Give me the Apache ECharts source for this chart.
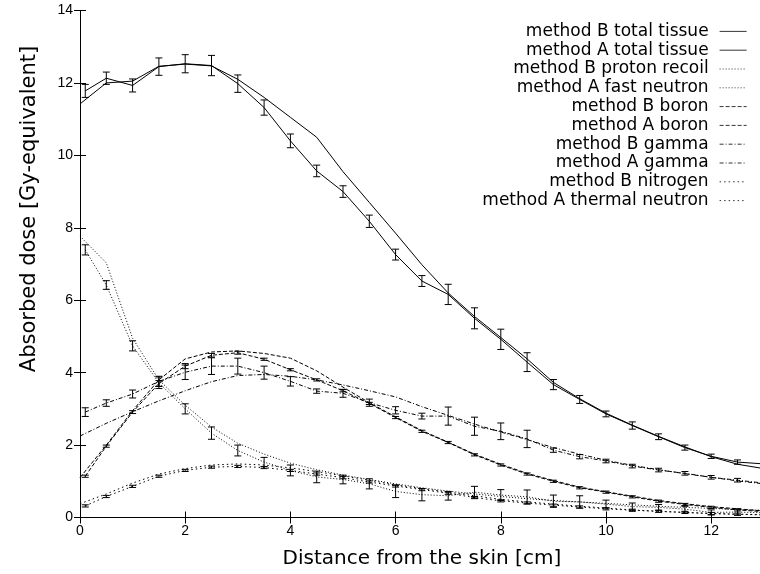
<!DOCTYPE html>
<html>
<head>
<meta charset="utf-8">
<script src="https://cdn.jsdelivr.net/npm/echarts@6/dist/echarts.min.js"></script>
<style>html,body{margin:0;padding:0;background:#fff}#c{width:760px;height:574px}</style>
</head>
<body>
<div id="c"></div>
<script>
// x positions
const xA = [0.1,0.5,1,1.5,2,2.5,3,3.5,4,4.5,5,5.5,6,6.5,7,7.5,8,8.5,9,9.5,10,10.5,11,11.5,12,12.5,13];
const xB = [0,0.5,1,1.5,2,2.5,3,3.5,4,4.5,5,5.5,6,6.5,7,7.5,8,8.5,9,9.5,10,10.5,11,11.5,12,12.5,13];

// method B (no error bars)
const totalB   = [11.42,12.0,12.05,12.46,12.52,12.47,12.1,11.6,11.05,10.5,9.55,8.7,7.85,6.98,6.2,5.55,4.97,4.38,3.73,3.28,2.88,2.55,2.24,1.95,1.68,1.47,1.35];
const protonB  = [7.77,7.03,4.95,3.8,3.1,2.5,2.05,1.75,1.5,1.32,1.17,1.05,0.93,0.82,0.73,0.65,0.58,0.52,0.47,0.43,0.39,0.35,0.31,0.28,0.25,0.22,0.2];
const boronB   = [1.1,2.0,2.95,3.8,4.38,4.57,4.6,4.53,4.4,4.05,3.6,3.17,2.78,2.4,2.08,1.75,1.47,1.22,1.02,0.84,0.71,0.59,0.47,0.38,0.3,0.24,0.18];
const gammaB   = [2.25,2.6,2.92,3.22,3.5,3.75,3.92,3.95,3.9,3.8,3.66,3.5,3.33,3.06,2.82,2.58,2.36,2.15,1.93,1.75,1.58,1.44,1.32,1.21,1.11,1.01,0.93];
const nitrogenB= [0.38,0.65,0.95,1.2,1.35,1.45,1.48,1.45,1.37,1.27,1.15,1.03,0.9,0.8,0.7,0.6,0.5,0.43,0.37,0.31,0.26,0.21,0.17,0.14,0.11,0.09,0.07];

// method A (with error bars)
const totalA    = [11.78,12.13,11.93,12.45,12.53,12.48,11.98,11.32,10.4,9.57,9.0,8.18,7.26,6.53,6.16,5.5,4.92,4.29,3.67,3.26,2.86,2.54,2.23,1.93,1.69,1.53,1.48];
const totalAerr = [0.18,0.17,0.18,0.24,0.25,0.28,0.24,0.21,0.19,0.16,0.16,0.17,0.15,0.15,0.28,0.29,0.28,0.26,0.14,0.11,0.08,0.1,0.08,0.07,0.06,0.06,0];
const fastA     = [7.39,6.42,4.74,3.72,3.0,2.33,1.85,1.53,1.3,1.12,1.05,0.93,0.72,0.63,0.6,0.7,0.62,0.57,0.45,0.43,0.37,0.3,0.28,0.23,0.14,0.15,0.13];
const fastAerr  = [0.14,0.12,0.14,0.16,0.14,0.17,0.15,0.13,0.15,0.16,0.12,0.14,0.17,0.17,0.12,0.16,0.15,0.19,0.17,0.17,0.11,0.1,0.08,0.08,0.07,0.08,0];
const boronA    = [1.14,1.97,2.91,3.7,4.18,4.48,4.55,4.37,4.08,3.8,3.5,3.15,2.76,2.38,2.07,1.73,1.45,1.2,1.0,0.82,0.7,0.57,0.45,0.36,0.28,0.21,0.16];
const boronAerr = [0.03,0.03,0.04,0.08,0.07,0.05,0.04,0.03,0.03,0.03,0.03,0.03,0.03,0.03,0.03,0.03,0.03,0.03,0.03,0.03,0.03,0.03,0.03,0.03,0.03,0.03,0];
const gammaA    = [2.91,3.16,3.41,3.76,4.01,4.18,4.18,4.0,3.76,3.49,3.43,3.17,2.96,2.8,2.8,2.52,2.38,2.17,1.86,1.68,1.56,1.42,1.31,1.22,1.11,1.03,0.95];
const gammaAerr = [0.12,0.09,0.11,0.14,0.2,0.23,0.22,0.18,0.13,0.06,0.11,0.1,0.1,0.08,0.25,0.25,0.23,0.24,0.06,0.06,0.05,0.05,0.05,0.05,0.05,0.05,0];
const thermalA  = [0.32,0.58,0.86,1.14,1.3,1.39,1.41,1.38,1.3,1.2,1.1,0.98,0.87,0.77,0.67,0.55,0.46,0.4,0.34,0.29,0.24,0.2,0.17,0.14,0.11,0.09,0.08];
const thermalAerr=[0.03,0.03,0.03,0.03,0.03,0.03,0.03,0.03,0.03,0.03,0.03,0.03,0.03,0.03,0.03,0.03,0.03,0.03,0.03,0.03,0.03,0.03,0.03,0.03,0.03,0.03,0];

const xTicks = [0,2,4,6,8,10,12];
const yTicks = [0,2,4,6,8,10,12,14];

const names = ['method B total tissue','method A total tissue','method B proton recoil','method A fast neutron',
  'method B boron','method A boron','method B gamma','method A gamma','method B nitrogen','method A thermal neutron'];
const xTitle = 'Distance from the skin [cm]';
const yTitle = 'Absorbed dose [Gy-equivalent]';

const SOLID = 'solid', FINE = [1,2], DASH = [4,2], DASHDOT = [4,2,1,2], COARSE = [1.5,3];

function pairs(xs, ys){ return xs.map((x,i)=>[x, ys[i]]); }
function lineSeries(name, xs, ys, type){
  return {name, type:'line', data:pairs(xs,ys), symbol:'none', showSymbol:false, animation:false,
    lineStyle:{color:'#000', width:1, type:type}, itemStyle:{color:'#000'}, z:2};
}
function errSeries(xs, ys, es){
  return {type:'custom', animation:false, silent:true, z:3,
    data: xs.map((x,i)=>[x, ys[i], es[i]]),
    encode:{x:0, y:1},
    renderItem:function(params, api){
      const x = api.value(0), y = api.value(1), e = api.value(2);
      const top = api.coord([x, y+e]), bot = api.coord([x, y-e]);
      const w = 3.5;
      const st = {stroke:'#000', lineWidth:1};
      return {type:'group', children:[
        {type:'line', shape:{x1:top[0], y1:top[1], x2:bot[0], y2:bot[1]}, style:st},
        {type:'line', shape:{x1:top[0]-w, y1:top[1], x2:top[0]+w, y2:top[1]}, style:st},
        {type:'line', shape:{x1:bot[0]-w, y1:bot[1], x2:bot[0]+w, y2:bot[1]}, style:st}
      ]};
    }};
}

const series = [
  lineSeries(names[0], xB, totalB, SOLID),
  lineSeries(names[1], xA, totalA, SOLID),
  lineSeries(names[2], xB, protonB, FINE),
  lineSeries(names[3], xA, fastA, FINE),
  lineSeries(names[4], xB, boronB, DASH),
  lineSeries(names[5], xA, boronA, DASH),
  lineSeries(names[6], xB, gammaB, DASHDOT),
  lineSeries(names[7], xA, gammaA, DASHDOT),
  lineSeries(names[8], xB, nitrogenB, COARSE),
  lineSeries(names[9], xA, thermalA, COARSE),
  errSeries(xA, totalA, totalAerr),
  errSeries(xA, fastA, fastAerr),
  errSeries(xA, boronA, boronAerr),
  errSeries(xA, gammaA, gammaAerr),
  errSeries(xA, thermalA, thermalAerr)
];

const FONT = 'DejaVu Sans';
const tickFont = {fontFamily:'Liberation Sans', fontSize:14, color:'#000'};

const chart = echarts.init(document.getElementById('c'), null, {renderer:'canvas'});
chart.setOption({
  backgroundColor:'#fff',
  animation:false,
  grid:{left:80, top:10.5, width:683.8, height:507, outerBoundsMode:'none', containLabel:false},
  legend:{
    data:names, orient:'vertical', align:'right', right:13, top:22, padding:0,
    itemWidth:27, itemHeight:10, itemGap:0,
    itemStyle:{opacity:0},
    lineStyle:{width:0.8},
    textStyle:{fontFamily:FONT, fontSize:17, color:'#000', lineHeight:18.8, padding:[0,6,0,0]},
    inactiveColor:'#000'
  },
  graphic:[{type:'text', x:30, y:209, rotation:Math.PI/2, silent:true,
    style:{text:yTitle, fontFamily:FONT, fontSize:21, fill:'#000', align:'center', verticalAlign:'middle'}}],
  xAxis:[
    {type:'value', min:0, max:13, interval:2, position:'bottom',
     name:xTitle, nameLocation:'middle', nameGap:31,
     nameTextStyle:{fontFamily:FONT, fontSize:20, color:'#000'},
     axisLine:{lineStyle:{color:'#000', width:1}},
     axisTick:{inside:true, length:6, lineStyle:{color:'#000'}},
     axisLabel:{...tickFont, margin:7, formatter:v=> xTicks.includes(v) ? String(v) : ''},
     splitLine:{show:false}},
    {type:'value', min:0, max:13, interval:2, position:'top',
     axisLine:{show:true, lineStyle:{color:'#000', width:1}},
     axisTick:{inside:true, length:6, lineStyle:{color:'#000'}},
     axisLabel:{show:false}, splitLine:{show:false}}
  ],
  yAxis:[
    {type:'value', min:0, max:14, interval:2, position:'left',
     axisLine:{show:true, lineStyle:{color:'#000', width:1}},
     axisTick:{inside:true, length:6, lineStyle:{color:'#000'}},
     axisLabel:{...tickFont, margin:7, formatter:v=> yTicks.includes(v) ? String(v) : ''},
     splitLine:{show:false}},
    {type:'value', min:0, max:14, interval:2, position:'right',
     axisLine:{show:true, lineStyle:{color:'#000', width:1}},
     axisTick:{inside:true, length:6, lineStyle:{color:'#000'}},
     axisLabel:{show:false}, splitLine:{show:false}}
  ],
  series: series
});
</script>
</body>
</html>
